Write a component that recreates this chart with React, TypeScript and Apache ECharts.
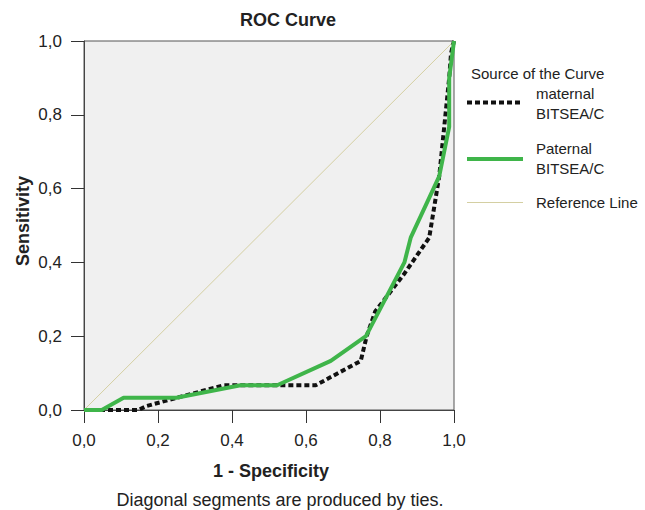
import React, { useEffect, useRef } from "react";
import * as echarts from "echarts";

const maternalX = [0, 0.05, 0.147, 0.17, 0.25, 0.378, 0.423, 0.626, 0.748, 0.764, 0.787, 0.864, 0.933, 0.96, 0.987, 0.992, 1];
const maternalY = [0, 0, 0, 0.011, 0.033, 0.067, 0.067, 0.067, 0.133, 0.2, 0.267, 0.367, 0.467, 0.633, 0.9, 0.967, 1];

const paternalX = [0, 0.048, 0.107, 0.25, 0.423, 0.522, 0.667, 0.762, 0.866, 0.883, 0.96, 0.987, 0.987, 1];
const paternalY = [0, 0, 0.033, 0.033, 0.067, 0.067, 0.133, 0.2, 0.4, 0.467, 0.633, 0.767, 0.9, 1];

const referenceX = [0, 1];
const referenceY = [0, 1];

const tickValues = [0, 0.2, 0.4, 0.6, 0.8, 1.0];

const FONT = "'Liberation Sans', Arial, sans-serif";
const GREEN = "#3fb54a";
const REF = "#d4cfa2";

const zip = (xs: number[], ys: number[]) => xs.map((x, i) => [x, ys[i]]);
const fmt = (v: number) => v.toFixed(1).replace(".", ",");

export default function App() {
  const ref = useRef<HTMLDivElement>(null);
  useEffect(() => {
    if (!ref.current) return;
    const chart = echarts.init(ref.current, null, { renderer: "svg" });
    const axisCommon = {
      type: "value" as const,
      min: 0,
      max: 1,
      interval: 0.2,
      splitLine: { show: false },
      axisLine: { show: true, lineStyle: { color: "#444", width: 1 } },
      axisTick: { show: true, inside: false, length: 13, lineStyle: { color: "#333" } },
      axisLabel: {
        margin: 22,
        fontSize: 17,
        color: "#222",
        fontFamily: FONT,
        formatter: (v: number) => (tickValues.some((t) => Math.abs(t - v) < 1e-6) ? fmt(v) : ""),
      },
    };
    const txt = (x: number, y: number, text: string, font: string, align: string, extra: any = {}) => ({
      type: "text",
      x,
      y,
      ...extra,
      style: { text, font, fill: "#222", textAlign: align, textVerticalAlign: "middle" },
    });
    chart.setOption({
      animation: false,
      backgroundColor: "#ffffff",
      grid: {
        left: 84,
        top: 41,
        width: 370,
        height: 369,
        show: true,
        backgroundColor: "#f0f0f0",
        borderColor: "#555",
        borderWidth: 1,
      },
      xAxis: { ...axisCommon },
      yAxis: { ...axisCommon },
      series: [
        {
          name: "Reference Line",
          type: "line",
          data: zip(referenceX, referenceY),
          symbol: "none",
          lineStyle: { color: REF, width: 1 },
          z: 1,
        },
        {
          name: "maternal BITSEA/C",
          type: "line",
          data: zip(maternalX, maternalY),
          symbol: "none",
          lineStyle: { color: "#111", width: 4, type: [5, 3] },
          z: 2,
        },
        {
          name: "Paternal BITSEA/C",
          type: "line",
          data: zip(paternalX, paternalY),
          symbol: "none",
          lineStyle: { color: GREEN, width: 4 },
          z: 3,
        },
      ],
      graphic: [
        txt(288, 20, "ROC Curve", `bold 18px ${FONT}`, "center"),
        txt(271, 471, "1 - Specificity", `bold 18px ${FONT}`, "center"),
        txt(280, 500, "Diagonal segments are produced by ties.", `18px ${FONT}`, "center"),
        txt(23, 221, "Sensitivity", `bold 18px ${FONT}`, "center", { rotation: Math.PI / 2 }),
        txt(471, 73, "Source of the Curve", `15px ${FONT}`, "left"),
        {
          type: "line",
          shape: { x1: 467, y1: 102.5, x2: 523, y2: 102.5 },
          style: { stroke: "#111", lineWidth: 4, lineDash: [5, 3] },
        },
        txt(536, 93, "maternal", `15px ${FONT}`, "left"),
        txt(536, 113, "BITSEA/C", `15px ${FONT}`, "left"),
        {
          type: "line",
          shape: { x1: 467, y1: 159, x2: 523, y2: 159 },
          style: { stroke: GREEN, lineWidth: 4 },
        },
        txt(536, 148, "Paternal", `15px ${FONT}`, "left"),
        txt(536, 168, "BITSEA/C", `15px ${FONT}`, "left"),
        {
          type: "line",
          shape: { x1: 467, y1: 202.5, x2: 523, y2: 202.5 },
          style: { stroke: REF, lineWidth: 1 },
        },
        txt(536, 202, "Reference Line", `15px ${FONT}`, "left"),
      ],
    });
    return () => chart.dispose();
  }, []);
  return <div ref={ref} style={{ position: "fixed", left: 0, top: 0, width: 645, height: 510 }} />;
}
